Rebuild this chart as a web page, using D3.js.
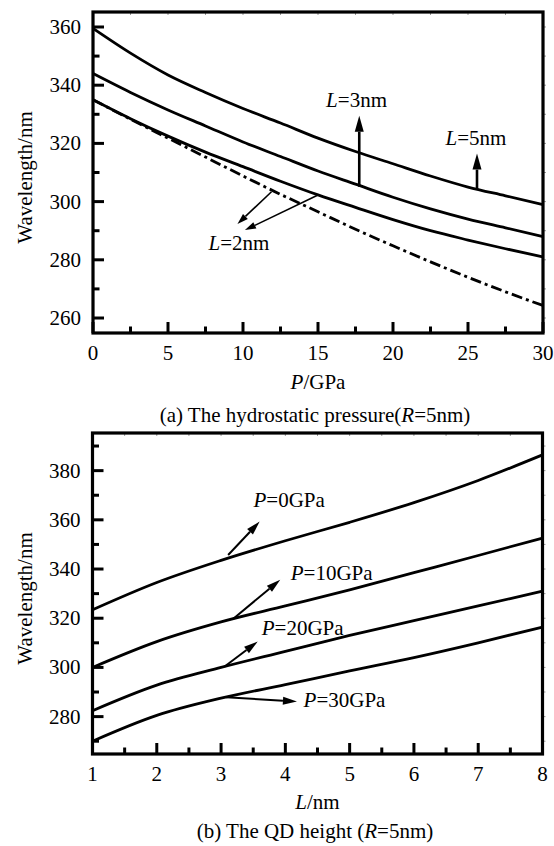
<!DOCTYPE html>
<html>
<head>
<meta charset="utf-8">
<script src="https://cdn.jsdelivr.net/npm/d3@7"></script>
<style>
  body { margin: 0; background: #fff; }
  svg text { font-family: "Liberation Serif", "Times New Roman", serif; fill: #000; }
</style>
</head>
<body>
<svg id="chart" width="554" height="846"></svg>
<script>
// (a) wavelength vs hydrostatic pressure
const pressure = [0, 2.5, 5, 7.5, 10, 12.5, 15, 17.5, 20, 22.5, 25, 27.5, 30];
const wlL5 = [359.5, 351, 343.5, 337.5, 332, 327, 321.8, 317.2, 313, 308.8, 305, 302, 299];
const wlL3 = [344, 337.5, 331.5, 326, 320.5, 315.5, 310.5, 306, 301.5, 297.5, 294, 291, 288];
const wlL2 = [335, 328.5, 322.5, 317, 312, 307, 302.3, 298, 293.8, 290, 286.8, 283.8, 281];
const wlL2dash = [335, 328.3, 321.8, 315.3, 308.8, 302.5, 296.5, 290.5, 284.8, 279.3, 274, 269, 264.3];
const xTicksA = [0, 5, 10, 15, 20, 25, 30];
const yTicksA = [260, 280, 300, 320, 340, 360];

// (b) wavelength vs QD height
const heightL = [1, 2, 3, 4, 5, 6, 7, 8];
const wlP0 = [323.4, 334.5, 343.5, 351.5, 359, 367, 376, 386.4];
const wlP10 = [300, 310.5, 318.5, 325, 331.5, 338.5, 345.5, 352.6];
const wlP20 = [282.4, 292.8, 300, 306.5, 313, 319, 325, 331];
const wlP30 = [270, 280.5, 287.5, 293, 298.6, 304, 310, 316.4];
const xTicksB = [1, 2, 3, 4, 5, 6, 7, 8];
const yTicksB = [280, 300, 320, 340, 360, 380];

// annotations, in data units: [baseX, baseY, tipX, tipY]
const arrowsA = [
  { from: [17.75, 305.1], to: [17.75, 329.5], big: true },
  { from: [25.6, 304.3], to: [25.6, 316.5], big: true },
  { from: [11.9, 303.4], to: [9.63, 292.3], big: false },
  { from: [15.0, 302.3], to: [10.13, 290.2], big: false }
];
const labelsA = [
  { x: 17.57, y: 332.5, it: 'L', rest: '=3nm' },
  { x: 25.53, y: 319.4, it: 'L', rest: '=5nm' },
  { x: 9.73, y: 283.4, it: 'L', rest: '=2nm' }
];
const arrowsB = [
  { from: [3.11, 345.7], to: [3.6, 359.3] },
  { from: [3.19, 319.8], to: [3.92, 335.6] },
  { from: [3.05, 300.3], to: [3.57, 310.5] },
  { from: [3.08, 287.9], to: [4.18, 286.1] }
];
const labelsB = [
  { x: 4.06, y: 365.2, it: 'P', rest: '=0GPa' },
  { x: 4.72, y: 335.6, it: 'P', rest: '=10GPa' },
  { x: 4.27, y: 313.2, it: 'P', rest: '=20GPa' },
  { x: 4.92, y: 284.1, it: 'P', rest: '=30GPa' }
];

const svg = d3.select('#chart');
const FS = 21;

function arrowHead(g, x1, y1, x2, y2, len, wid) {
  const a = Math.atan2(y2 - y1, x2 - x1);
  const bx = x2 - len * Math.cos(a), by = y2 - len * Math.sin(a);
  const nx = -Math.sin(a) * wid / 2, ny = Math.cos(a) * wid / 2;
  g.append('path')
    .attr('d', `M${x2},${y2}L${bx + nx},${by + ny}L${bx - nx},${by - ny}Z`)
    .attr('fill', '#000');
  return [bx, by];
}

function drawPanel(cfg) {
  const { left, right, top, bottom } = cfg.box;
  const x = d3.scaleLinear().domain(cfg.xDomain).range([left, right]);
  const y = d3.scaleLinear().domain(cfg.yDomain).range([bottom, top]);
  const g = svg.append('g');

  // faint mirror ticks on top and right
  const xAll = d3.range(cfg.xDomain[0], cfg.xDomain[1] + 1e-9, cfg.xMinor);
  const yAll = d3.range(Math.ceil(cfg.yDomain[0] / 10) * 10, cfg.yDomain[1], 10);
  g.selectAll('.tt').data(xAll).join('line')
    .attr('x1', d => x(d)).attr('x2', d => x(d))
    .attr('y1', top).attr('y2', top + 3)
    .attr('stroke', '#999').attr('stroke-width', 1);
  g.selectAll('.rt').data(yAll).join('line')
    .attr('x1', right).attr('x2', right + 3)
    .attr('y1', d => y(d)).attr('y2', d => y(d))
    .attr('stroke', '#999').attr('stroke-width', 1);

  // curves
  const line = d3.line().x((d, i) => x(cfg.xs[i])).y(d => y(d)).curve(d3.curveMonotoneX);
  cfg.series.forEach(s => {
    g.append('path')
      .attr('d', line(s.values))
      .attr('fill', 'none')
      .attr('stroke', '#000')
      .attr('stroke-width', 2.8)
      .attr('stroke-dasharray', s.dash || null);
  });

  // frame
  g.append('rect')
    .attr('x', left).attr('y', top)
    .attr('width', right - left).attr('height', bottom - top)
    .attr('fill', 'none').attr('stroke', '#000').attr('stroke-width', 3.2);

  // inward ticks, bottom and left
  xAll.forEach(v => {
    const major = cfg.xTicks.some(t => Math.abs(t - v) < 1e-9);
    g.append('line')
      .attr('x1', x(v)).attr('x2', x(v))
      .attr('y1', bottom).attr('y2', bottom - (major ? 11 : 6.5))
      .attr('stroke', '#000').attr('stroke-width', 3);
  });
  yAll.forEach(v => {
    const major = cfg.yTicks.includes(v);
    g.append('line')
      .attr('x1', left).attr('x2', left + (major ? 11 : 6.5))
      .attr('y1', y(v)).attr('y2', y(v))
      .attr('stroke', '#000').attr('stroke-width', 3);
  });

  g.selectAll('.xl').data(cfg.xTicks).join('text')
    .attr('x', d => x(d)).attr('y', bottom + 27)
    .attr('text-anchor', 'middle').attr('font-size', FS)
    .text(d => d);
  g.selectAll('.yl').data(cfg.yTicks).join('text')
    .attr('x', left - 12).attr('y', d => y(d) + 7)
    .attr('text-anchor', 'end').attr('font-size', FS)
    .text(d => d);

  // axis titles
  const yt = g.append('text')
    .attr('transform', `translate(32,${(top + bottom) / 2 + 5}) rotate(-90)`)
    .attr('text-anchor', 'middle').attr('font-size', FS)
    .text('Wavelength/nm');
  const xt = g.append('text')
    .attr('x', (left + right) / 2).attr('y', cfg.xTitleY)
    .attr('text-anchor', 'middle').attr('font-size', FS);
  xt.append('tspan').attr('font-style', 'italic').text(cfg.xTitle[0]);
  xt.append('tspan').text(cfg.xTitle[1]);

  const cap = g.append('text')
    .attr('x', 315).attr('y', cfg.captionY)
    .attr('text-anchor', 'middle').attr('font-size', FS);
  cap.append('tspan').text(cfg.caption[0]);
  cap.append('tspan').attr('font-style', 'italic').text('R');
  cap.append('tspan').text('=5nm)');

  // arrows
  cfg.arrows.forEach(a => {
    const x1 = x(a.from[0]), y1 = y(a.from[1]);
    const x2 = x(a.to[0]), y2 = y(a.to[1]);
    const big = a.big !== false;
    const len = cfg.headLen(a), wid = cfg.headWid(a);
    const [bx, by] = arrowHead(g, x1, y1, x2, y2, len, wid);
    g.append('line')
      .attr('x1', x1).attr('y1', y1).attr('x2', bx).attr('y2', by)
      .attr('stroke', '#000').attr('stroke-width', cfg.arrowW(a));
  });

  cfg.labels.forEach(l => {
    const t = g.append('text')
      .attr('x', x(l.x)).attr('y', y(l.y))
      .attr('text-anchor', 'middle').attr('font-size', FS);
    t.append('tspan').attr('font-style', 'italic').text(l.it);
    t.append('tspan').text(l.rest);
  });
}

drawPanel({
  box: { left: 93, right: 543, top: 12, bottom: 333 },
  xDomain: [0, 30], yDomain: [254.85, 365.15],
  xMinor: 2.5,
  xs: pressure,
  series: [
    { values: wlL5 }, { values: wlL3 }, { values: wlL2 },
    { values: wlL2dash, dash: '11,4,3,4' }
  ],
  xTicks: xTicksA, yTicks: yTicksA,
  xTitle: ['P', '/GPa'], xTitleY: 389,
  caption: ['(a) The hydrostatic pressure('], captionY: 422,
  arrows: arrowsA, labels: labelsA,
  headLen: a => a.big ? 16 : 11,
  headWid: a => a.big ? 9 : 7,
  arrowW: a => a.big ? 2.6 : 1.6
});

drawPanel({
  box: { left: 92.5, right: 542.5, top: 433, bottom: 754 },
  xDomain: [1, 8], yDomain: [264.8, 395.3],
  xMinor: 0.5,
  xs: heightL,
  series: [{ values: wlP0 }, { values: wlP10 }, { values: wlP20 }, { values: wlP30 }],
  xTicks: xTicksB, yTicks: yTicksB,
  xTitle: ['L', '/nm'], xTitleY: 809,
  caption: ['(b) The QD height ('], captionY: 838,
  arrows: arrowsB, labels: labelsB,
  headLen: () => 14,
  headWid: () => 8,
  arrowW: () => 2
});
</script>
</body>
</html>
